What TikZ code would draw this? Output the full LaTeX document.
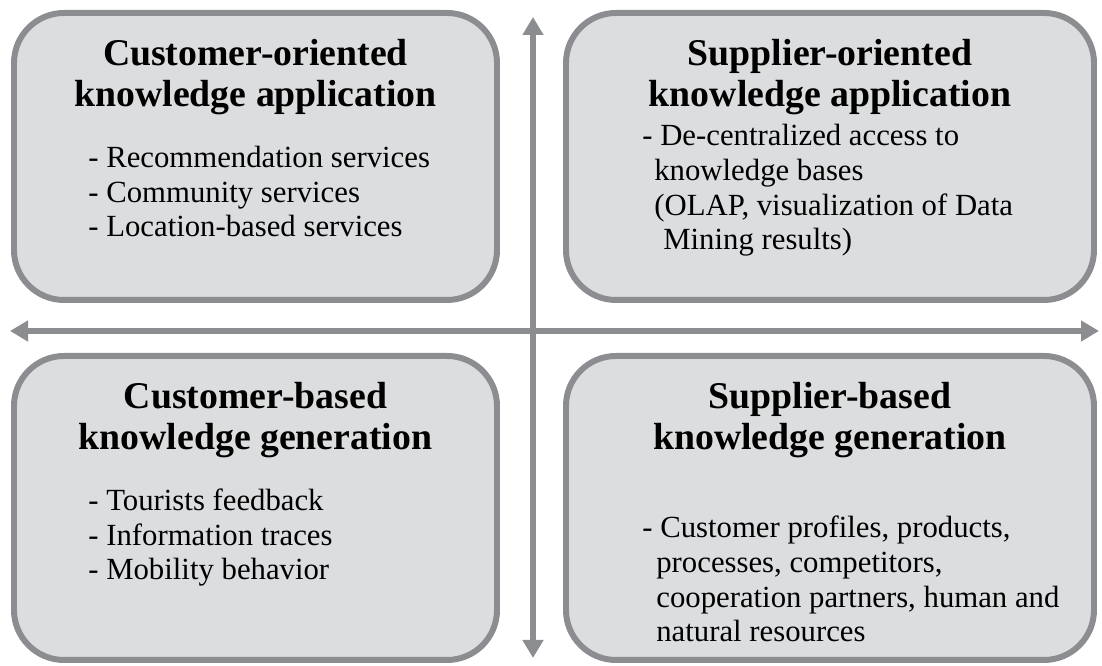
\documentclass[tikz,border=0pt]{standalone}
\usepackage{fontspec}
\setmainfont{Liberation Serif}
\usetikzlibrary{arrows.meta}
\definecolor{framegray}{RGB}{140,141,145}
\definecolor{fillgray}{RGB}{220,221,223}
\newcommand*{\headfont}{\fontsize{21.5}{23.8}\selectfont\bfseries}
\newcommand*{\itemfont}{\fontsize{17.5}{19.85}\selectfont}

\begin{document}
\begin{tikzpicture}[>={Triangle[length=0.36cm,width=0.4cm]},scale=1.0,
        quadbox/.style={draw=framegray,fill=fillgray,line width=3.4pt,rounded corners=1cm},
        headtext/.style={anchor=base,align=center,inner sep=0pt,font=\headfont},
        itemtext/.style={anchor=base west,align=left,inner sep=0pt,font=\itemfont},
        axisline/.style={<->,draw=framegray,line width=3.4pt}]
                \useasboundingbox (0,0) rectangle (22.04,13.32);

                \node[quadbox,minimum width=9.66cm,minimum height=5.74cm] (custapp) at (5.11,10.19) {};
                \node[quadbox,minimum width=10.56cm,minimum height=5.74cm] (suppapp) at (16.6,10.19) {};
                \node[quadbox,minimum width=9.66cm,minimum height=6.08cm] (custgen) at (5.11,3.16) {};
                \node[quadbox,minimum width=10.56cm,minimum height=6.08cm] (suppgen) at (16.6,3.16) {};

                \coordinate (west) at (0.2,6.70);
                \coordinate (east) at (21.98,6.70);
                \coordinate (north) at (10.66,12.98);
                \coordinate (south) at (10.66,0.16);
                \draw[axisline] (west)--(east);
                \draw[axisline] (south)--(north);

                \node[headtext] (custapphead) at (5.11,11.18) {Customer-oriented\\knowledge application};
                \node[itemtext] (custapplist) at (1.76,8.58) {- Recommendation services\\- Community services\\- Location-based services};

                \node[headtext] (suppapphead) at (16.6,11.18) {Supplier-oriented\\knowledge application};
                \node[itemtext] (suppapplist) at (12.84,8.32) {- De-centralized access to\\\hspace*{0.24cm}knowledge bases\\\hspace*{0.24cm}(OLAP, visualization of Data\\\hspace*{0.42cm}Mining results)};

                \node[headtext] (custgenhead) at (5.11,4.32) {Customer-based\\knowledge generation};
                \node[itemtext] (custgenlist) at (1.76,1.72) {- Tourists feedback\\- Information traces\\- Mobility behavior};

                \node[headtext] (suppgenhead) at (16.6,4.32) {Supplier-based\\knowledge generation};
                \node[itemtext] (suppgenlist) at (12.84,0.48) {- Customer profiles, products,\\\hspace*{0.28cm}processes, competitors,\\\hspace*{0.28cm}cooperation partners, human and\\\hspace*{0.28cm}natural resources};
            \end{tikzpicture}
\end{document}
